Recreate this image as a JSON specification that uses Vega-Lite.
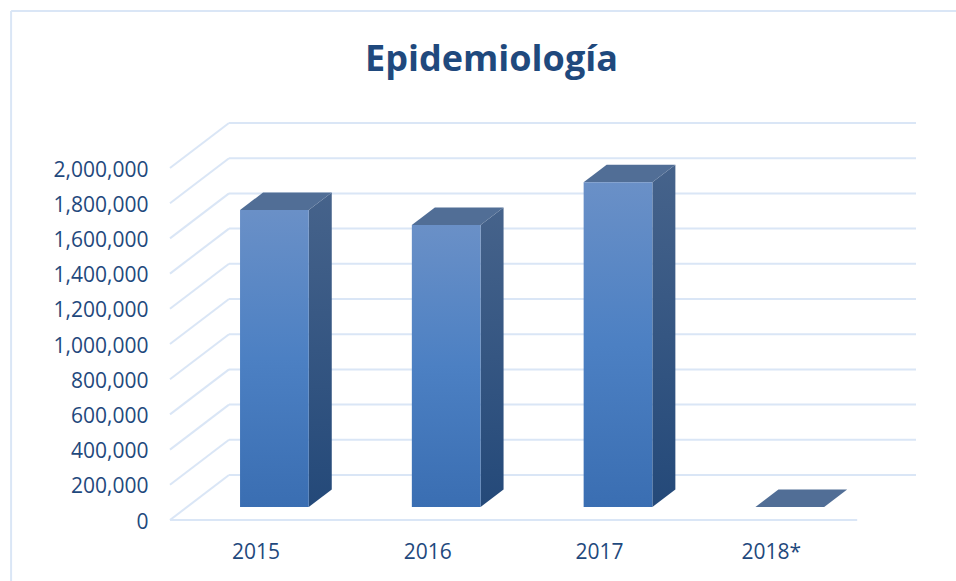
{
"$schema":"https://vega.github.io/schema/vega-lite/v6.json",
"width":746,"height":397,
"autosize":{"type":"none"},
"padding":{"left":170,"top":123,"right":40,"bottom":61},
"background":"white",
"config":{"view":{"stroke":null},"font":"Open Sans"},
"title":{"text":"Epidemiología","font":"Open Sans","fontSize":36,"fontWeight":"bold","color":"#1F497D","anchor":"start","frame":"group","dx":195,"offset":-69},
"datasets":{
"bars":[{"year":"2015","slot":0,"value":1687500},{"year":"2016","slot":1,"value":1602000},{"year":"2017","slot":2,"value":1844900},{"year":"2018*","slot":3,"value":0}],
"ticks":[{"tick":0},{"tick":200000},{"tick":400000},{"tick":600000},{"tick":800000},{"tick":1000000},{"tick":1200000},{"tick":1400000},{"tick":1600000},{"tick":1800000},{"tick":2000000}]
},
"encoding":{"y":{"type":"quantitative","scale":{"domain":[0,2255682],"nice":false,"zero":false},"axis":{"values":[0,200000,400000,600000,800000,1000000,1200000,1400000,1600000,1800000,2000000],"format":",d","labelOverlap":false,"labelOffset":2,"domain":false,"ticks":false,"grid":false,"title":null,"labelFont":"Open Sans","labelFontSize":21,"labelColor":"#1F497D","labelPadding":22}}},
"layer":[
{"data":{"name":"ticks"},"transform":[{"calculate":"datum.tick+255682","as":"back"}],
 "mark":{"type":"rule","color":"#DAE6F6","strokeWidth":2},
 "encoding":{"x":{"datum":0,"type":"quantitative","scale":{"domain":[0,4.3423],"nice":false,"zero":false},"axis":null},"x2":{"datum":0.3434},"y":{"field":"tick","type":"quantitative"},"y2":{"field":"back"}}},
{"data":{"values":[{"a":1}]},"mark":{"type":"rule","color":"#DAE6F6","strokeWidth":2},
 "encoding":{"x":{"datum":-0.925,"type":"quantitative","axis":null},"x2":{"datum":4.575},"y":{"datum":2892045,"type":"quantitative"}}},
{"data":{"values":[{"a":1}]},"mark":{"type":"rule","color":"#DAE6F6","strokeWidth":2},
 "encoding":{"x":{"datum":-0.925,"type":"quantitative","axis":null},"y":{"datum":2892045,"type":"quantitative"},"y2":{"datum":-346591}}},
{"data":{"name":"ticks"},"transform":[{"calculate":"datum.tick+255682","as":"back"}],
 "mark":{"type":"rule","color":"#DAE6F6","strokeWidth":2},
 "encoding":{"x":{"datum":0.3434,"type":"quantitative","axis":null},"x2":{"datum":4.3423},"y":{"field":"back","type":"quantitative"}}},
{"data":{"values":[{"tick":0}]},
 "mark":{"type":"rule","color":"#DAE6F6","strokeWidth":2},
 "encoding":{"x":{"datum":0,"type":"quantitative","axis":null},"x2":{"datum":4.0},"y":{"field":"tick","type":"quantitative"}}},
{"data":{"name":"bars"},
 "transform":[{"filter":"datum.value>0"},{"calculate":"[0,1]","as":"edge"},{"flatten":["edge"]},
  {"calculate":"datum.slot+0.8077+datum.edge*0.1339","as":"sx"},
  {"calculate":"73864+datum.value+datum.edge*99432","as":"sy"},
  {"calculate":"73864+datum.edge*99432","as":"sy2"}],
 "mark":{"type":"area","orient":"vertical","fill":{"gradient":"linear","x1":0,"y1":0,"x2":0,"y2":1,"stops":[{"offset":0,"color":"#46638B"},{"offset":1,"color":"#244979"}]}},
 "encoding":{"x":{"field":"sx","type":"quantitative","axis":null},"y":{"field":"sy","type":"quantitative","stack":null},"y2":{"field":"sy2"},"detail":{"field":"year"}}},
{"data":{"name":"bars"},
 "transform":[{"calculate":"[0,1]","as":"edge"},{"flatten":["edge"]},
  {"calculate":"datum.slot+0.4077+datum.edge*0.1339","as":"tx"},
  {"calculate":"datum.tx+0.4","as":"tx2"},
  {"calculate":"73864+datum.value+datum.edge*99432","as":"ty"}],
 "mark":{"type":"area","orient":"horizontal","color":"#516E96"},
 "encoding":{"y":{"field":"ty","type":"quantitative"},"x":{"field":"tx","type":"quantitative","stack":null,"axis":null},"x2":{"field":"tx2"},"detail":{"field":"year"}}},
{"data":{"name":"bars"},
 "transform":[{"filter":"datum.value>0"},
  {"calculate":"datum.slot+0.4077","as":"fx"},{"calculate":"datum.fx+0.4","as":"fx2"},
  {"calculate":"73864+datum.value","as":"fy"},{"calculate":"73864","as":"fy2"}],
 "mark":{"type":"rect","fill":{"gradient":"linear","x1":0,"y1":0,"x2":0,"y2":1,"stops":[{"offset":0,"color":"#6A90C7"},{"offset":0.5,"color":"#4C80C3"},{"offset":1,"color":"#3A6EB2"}]}},
 "encoding":{"x":{"field":"fx","type":"quantitative","axis":null},"x2":{"field":"fx2"},"y":{"field":"fy","type":"quantitative"},"y2":{"field":"fy2"}}},
{"data":{"name":"bars"},
 "transform":[{"calculate":"datum.slot+0.5","as":"cx"}],
 "mark":{"type":"text","font":"Open Sans","fontSize":21,"color":"#1F497D","dy":33,"baseline":"middle","align":"center"},
 "encoding":{"x":{"field":"cx","type":"quantitative","axis":null},"y":{"datum":0,"type":"quantitative"},"text":{"field":"year"}}}
]
}
